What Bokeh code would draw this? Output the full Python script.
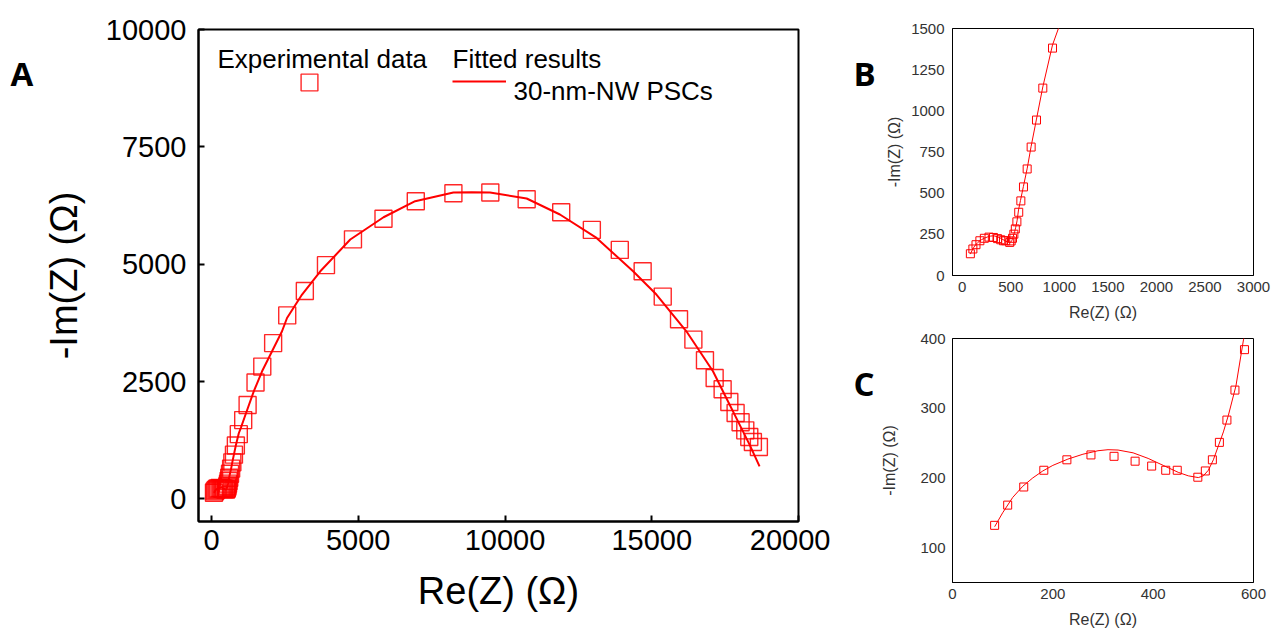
from bokeh.plotting import figure
from bokeh.layouts import row, column
from bokeh.models import Range1d, FixedTicker, Label, Legend, LegendItem
from bokeh.embed import file_html
from bokeh.resources import INLINE

# ---------------- data ----------------
# Experimental Nyquist data: Re(Z), -Im(Z) in ohm
exp_re = [84, 110, 142, 182, 228, 276, 322, 364, 397, 425, 448, 489, 504, 518,
          532, 547, 563, 582, 604, 631, 669, 710, 765, 830, 930,
          1080, 1230, 1500, 1730, 2100, 2580, 3180, 3900, 4820, 5860, 6960,
          8242, 9500, 10738, 11915, 12959, 13911, 14690, 15374, 15929, 16418,
          16813, 17143, 17415, 17643, 17857, 18027, 18187, 18323, 18446, 18650]
exp_im = [132, 161, 187, 211, 226, 233, 231, 224, 217, 211, 211, 201, 210, 226,
          251, 283, 326, 384, 453, 538, 647, 780, 944, 1138, 1381,
          1680, 2000, 2480, 2820, 3320, 3910, 4430, 4980, 5530, 5970, 6340,
          6513, 6528, 6385, 6108, 5731, 5305, 4850, 4311, 3828, 3395,
          2954, 2577, 2336, 2065, 1831, 1633, 1462, 1319, 1213, 1106]

# Fitted results (30-nm-NW PSCs)
fit_re = [84, 100, 120, 140, 160, 180, 200, 230, 260, 290, 310, 330, 360, 390,
          420, 450, 470, 490, 500, 510, 520, 530, 540, 550, 565, 580, 600, 630,
          670, 710, 765, 830, 930, 1000, 1160, 1440, 1723, 2063, 2403, 2573,
          3085, 3707, 4728, 5862, 6939, 8242, 8866, 9490, 10738, 11871, 13119,
          14365, 15159, 16180, 16633, 17086, 17540, 17993, 18333, 18673]
fit_im = [130, 150, 172, 188, 200, 210, 218, 227, 234, 239, 240.5, 240, 236, 228,
          218, 208, 203, 200.5, 203, 211, 226, 246, 266, 290, 332, 398, 455, 540,
          652, 785, 950, 1145, 1400, 1515, 1800, 2293, 2719, 3146, 3572, 3855,
          4354, 4850, 5526, 6001, 6342, 6528, 6535, 6528, 6400, 6059, 5560,
          4850, 4354, 3572, 3146, 2719, 2150, 1583, 1157, 695]

a_xticks = [0, 5000, 10000, 15000, 20000]
a_yticks = [0, 2500, 5000, 7500, 10000]
b_xticks = [0, 500, 1000, 1500, 2000, 2500, 3000]
b_yticks = [0, 250, 500, 750, 1000, 1250, 1500]
c_xticks = [0, 200, 400, 600]
c_yticks = [100, 200, 300, 400]

RED = "#ff0000"
FONT = "Liberation Sans"
H = 630


def add_text(p, x, y, text, size, font=FONT, style="normal", color="black"):
    p.add_layout(Label(x=x, y=y, x_units="screen", y_units="screen", text=text,
                       text_font=font, text_font_size=size, text_font_style=style,
                       text_color=color, text_baseline="alphabetic", text_align="left"))


def letter_fig(width, letters):
    # the frame of this strip is aligned with panel A's frame (top 29, bottom 521)
    f = figure(width=width, height=H, x_range=Range1d(0, 1), y_range=Range1d(0, 1),
               output_backend="svg", toolbar_location=None,
               min_border_left=0, min_border_right=0, min_border_top=0, min_border_bottom=0,
               x_axis_type=None, y_axis_type=None)
    f.grid.visible = False
    f.outline_line_color = None
    for (x, y, t) in letters:
        add_text(f, x, y, t, "33px", font="Open Sans", style="bold")
    return f


# ---------------- panel A ----------------
pA = figure(width=794, height=H, x_range=Range1d(-443, 20000), y_range=Range1d(-480, 10000),
            output_backend="svg", toolbar_location=None,
            min_border_left=162, min_border_right=32, min_border_top=29, min_border_bottom=109)
pA.grid.visible = False
pA.outline_line_color = "black"
pA.outline_line_width = 2
pA.xaxis.ticker = FixedTicker(ticks=a_xticks)
pA.yaxis.ticker = FixedTicker(ticks=a_yticks)
pA.xaxis.axis_label = "Re(Z) (Ω)"
pA.yaxis.axis_label = "-Im(Z) (Ω)"
for ax in (pA.xaxis[0], pA.yaxis[0]):
    ax.major_tick_in = 6
    ax.major_tick_out = 0
    ax.major_tick_line_width = 2
    ax.minor_tick_line_color = None
    ax.axis_line_width = 2
    ax.major_label_text_font = FONT
    ax.major_label_text_font_size = "29px"
    ax.major_label_text_color = "black"
    ax.axis_label_text_font = FONT
    ax.axis_label_text_font_size = "38px"
    ax.axis_label_text_font_style = "normal"
    ax.axis_label_text_color = "black"
pA.xaxis.major_label_standoff = 8
pA.xaxis.axis_label_standoff = 17
pA.yaxis.major_label_standoff = 12
pA.yaxis.axis_label_standoff = 18

r_fitA = pA.line(fit_re, fit_im, line_color=RED, line_width=2)
rA = pA.scatter(exp_re, exp_im, marker="square", size=17, fill_color=None,
                line_color=RED, line_width=1.4, line_alpha=0.85)

leg1 = Legend(items=[LegendItem(label=" ", renderers=[rA])], location=(90, 418),
              glyph_width=42, glyph_height=42, padding=0, margin=0, spacing=0,
              border_line_color=None, background_fill_alpha=0,
              label_text_font_size="1px", label_standoff=0, label_width=0, label_height=0)
pA.add_layout(leg1)
leg2 = Legend(items=[LegendItem(label=" ", renderers=[r_fitA])], location=(254, 430),
              glyph_width=54, glyph_height=20, padding=0, margin=0, spacing=0,
              border_line_color=None, background_fill_alpha=0,
              label_text_font_size="1px", label_standoff=0, label_width=0, label_height=0)
pA.add_layout(leg2)

add_text(pA, 19, 463, "Experimental data", "26px")
add_text(pA, 254, 463, "Fitted results", "26px")
add_text(pA, 315, 431, "30-nm-NW PSCs", "26px")

# ---------------- panels B and C ----------------
GREY = "#333333"


def small_panel(height, xr, yr, xt, yt, top, bottom, x_lab_std, y_tick_std, y_lab_std):
    p = figure(width=393, height=height, x_range=Range1d(*xr), y_range=Range1d(*yr),
               output_backend="svg", toolbar_location=None,
               min_border_left=74, min_border_right=18, min_border_top=top, min_border_bottom=bottom)
    p.grid.visible = False
    p.outline_line_color = "black"
    p.outline_line_width = 1
    p.xaxis.ticker = FixedTicker(ticks=xt)
    p.yaxis.ticker = FixedTicker(ticks=yt)
    p.xaxis.axis_label = "Re(Z) (Ω)"
    p.yaxis.axis_label = "-Im(Z) (Ω)"
    for ax in (p.xaxis[0], p.yaxis[0]):
        ax.major_tick_line_color = None
        ax.minor_tick_line_color = None
        ax.axis_line_color = "black"
        ax.major_label_text_font = FONT
        ax.major_label_text_font_size = "15px"
        ax.major_label_text_color = GREY
        ax.axis_label_text_font = FONT
        ax.axis_label_text_font_size = "16px"
        ax.axis_label_text_font_style = "normal"
        ax.axis_label_text_color = GREY
    p.xaxis.major_label_standoff = 0
    p.xaxis.axis_label_standoff = x_lab_std
    p.yaxis.major_label_standoff = y_tick_std
    p.yaxis.axis_label_standoff = y_lab_std
    p.line(fit_re, fit_im, line_color=RED, line_width=1)
    p.scatter(exp_re, exp_im, marker="square", size=8, fill_color=None,
              line_color=RED, line_width=1)
    return p


pB = small_panel(325, (-100, 3000), (0, 1500), b_xticks, b_yticks, 28, 50, 9, 2, 5)
pC = small_panel(305, (0, 600), (50, 400), c_xticks, c_yticks, 13, 48, 9, 1, 19)

# letter positions are relative to the strip frame bottom (page y = 521)
figLA = letter_fig(36, [(10, 448, "A")])
figLBC = letter_fig(48, [(23, 448, "B"), (23, 138, "C")])

layout = row(figLA, pA, figLBC, column(pB, pC))
open("out.html", "w").write(file_html(layout, INLINE))
